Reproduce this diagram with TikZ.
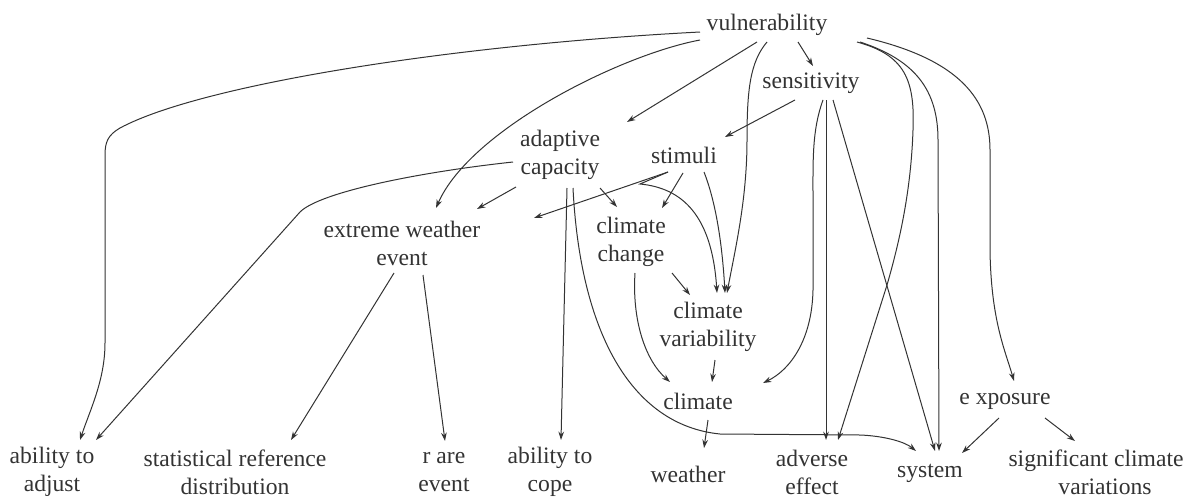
\documentclass[tikz,border=0pt]{standalone}
\usepackage{fontspec}
\setmainfont{Liberation Serif}
\usetikzlibrary{arrows.meta}
\definecolor{ink}{HTML}{333333}
\begin{document}
\begin{tikzpicture}[x=0.5pt,y=-0.5pt,
  lbl/.style={font=\fontsize{11.8}{14}\selectfont, align=center, inner sep=0pt, text=ink},
  arr/.style={-{Stealth[length=4.2pt,width=2.8pt]}, line width=0.5pt, draw=ink}]
\useasboundingbox (0,0) rectangle (1193,498);
% nodes
\node[lbl] (vul)   at (767,25)  {vulnerability};
\node[lbl] (sens)  at (811,83)  {sensitivity};
\node[lbl] (adapt) at (560,155) {adaptive\\capacity};
\node[lbl] (stim)  at (684,155) {stimuli};
\node[lbl] (eww)   at (402,243) {extreme weather\\event};
\node[lbl] (cc)    at (631,242) {climate\\change};
\node[lbl] (cv)    at (708,327) {climate\\variability};
\node[lbl] (clim)  at (698,401) {climate};
\node[lbl] (expo)  at (1005,401) {e xposure};
\node[lbl] (adj)   at (52,472)  {ability to\\adjust};
\node[lbl] (stat)  at (235,472) {statistical reference\\distribution};
\node[lbl] (rare)  at (444,472) {r are\\event};
\node[lbl] (cope)  at (550,472) {ability to\\cope};
\node[lbl] (wea)   at (688,474) {weather};
\node[lbl] (adv)   at (812,472) {adverse\\effect};
\node[lbl] (sys)   at (930,473) {system};
\node[lbl] (sig)   at (1096,472) {significant climate\\\hspace*{9pt}variations};
% edges from vulnerability
\draw[arr] ([shift={(-67,7)}]vul.center) .. controls (450,45) and (200,85) .. (120,128)
  .. controls (108,135) and (105,142) .. (105,155) -- (105,343)
  .. controls (105,380) and (90,410) .. ([shift={(28,-32)}]adj.center);
\draw[arr] ([shift={(-67,15)}]vul.center) .. controls (620,55) and (470,130) .. ([shift={(34,-35)}]eww.center);
\draw[arr] ([shift={(-10,17)}]vul.center) -- ([shift={(67,-33)}]adapt.center);
\draw[arr] ([shift={(0,17)}]vul.center) .. controls (750,62) and (747,90) .. (747,140)
  .. controls (747,200) and (735,250) .. ([shift={(19,-34)}]cv.center);
\draw[arr] ([shift={(31,17)}]vul.center) -- ([shift={(2,-17)}]sens.center);
\draw[arr] ([shift={(90,17)}]vul.center) .. controls (905,55) and (915,80) .. (913,130)
  .. controls (911,190) and (900,240) .. (887,285) -- ([shift={(26,-32)}]adv.center);
\draw[arr] ([shift={(93,17)}]vul.center) .. controls (915,60) and (938,90) .. (938,140)
  -- ([shift={(9,-22)}]sys.center);
\draw[arr] ([shift={(100,13)}]vul.center) .. controls (960,60) and (990,100) .. (990,150)
  -- (990,250) .. controls (991,320) and (1005,350) .. ([shift={(9,-20)}]expo.center);
% edges from sensitivity
\draw[arr] ([shift={(-16,17)}]sens.center) -- ([shift={(41,-18)}]stim.center);
\draw[arr] ([shift={(12,17)}]sens.center) .. controls (812,130) and (813,160) .. (813,200)
  -- (813,290) .. controls (812,340) and (790,370) .. ([shift={(65,-18)}]clim.center);
\draw[arr] ([shift={(15,17)}]sens.center) -- ([shift={(14,-32)}]adv.center);
\draw[arr] ([shift={(22,17)}]sens.center) -- ([shift={(5,-22)}]sys.center);
% edges from stimuli
\draw[arr] ([shift={(-16,17)}]stim.center) -- ([shift={(132,-25)}]eww.center);
\draw[arr] ([shift={(-16,17)}]stim.center) -- (640,184) .. controls (682,188) and (712,215) .. ([shift={(9,-34)}]cv.center);
\draw[arr] ([shift={(-1,18)}]stim.center) -- ([shift={(31,-34)}]cc.center);
\draw[arr] ([shift={(20,17)}]stim.center) .. controls (715,200) and (722,240) .. ([shift={(17,-34)}]cv.center);
% edges from adaptive capacity
\draw[arr] ([shift={(-47,7)}]adapt.center) .. controls (420,172) and (320,192) .. (300,212)
  -- ([shift={(44,-32)}]adj.center);
\draw[arr] ([shift={(-44,32)}]adapt.center) -- ([shift={(75,-34)}]eww.center);
\draw[arr] ([shift={(40,33)}]adapt.center) -- ([shift={(-14,-35)}]cc.center);
\draw[arr] ([shift={(7,33)}]adapt.center) -- ([shift={(11,-32)}]cope.center);
\draw[arr] ([shift={(13,33)}]adapt.center) .. controls (580,330) and (630,425) .. (720,434)
  -- (860,435) .. controls (885,436) and (905,442) .. ([shift={(-14,-22)}]sys.center);
% edges from extreme weather event
\draw[arr] ([shift={(-8,30)}]eww.center) -- ([shift={(56,-32)}]stat.center);
\draw[arr] ([shift={(21,32)}]eww.center) -- ([shift={(1,-31)}]rare.center);
% edges from climate change / variability / climate
\draw[arr] ([shift={(41,31)}]cc.center) -- ([shift={(-18,-32)}]cv.center);
\draw[arr] ([shift={(4,31)}]cc.center) .. controls (632,320) and (645,360) .. ([shift={(-28,-19)}]clim.center);
\draw[arr] ([shift={(7,33)}]cv.center) -- ([shift={(14,-19)}]clim.center);
\draw[arr] ([shift={(10,19)}]clim.center) -- ([shift={(16,-26)}]wea.center);
% edges from exposure
\draw[arr] ([shift={(-6,17)}]expo.center) -- ([shift={(32,-20)}]sys.center);
\draw[arr] ([shift={(40,17)}]expo.center) -- ([shift={(-21,-31)}]sig.center);
\end{tikzpicture}
\end{document}
